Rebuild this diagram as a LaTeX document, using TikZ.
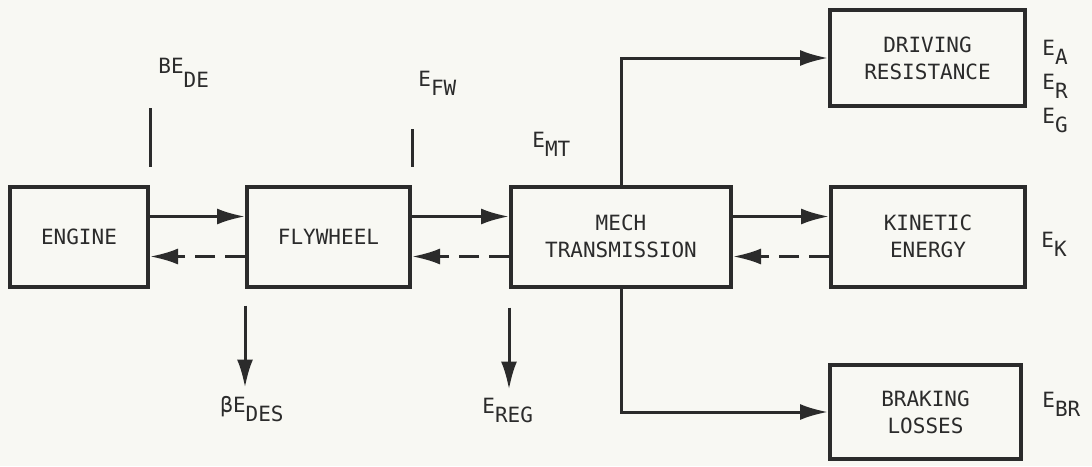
\documentclass[tikz,border=0pt]{standalone}
\usepackage{fontspec}
\setmainfont{DejaVu Sans Mono}
\usetikzlibrary{arrows.meta,calc}
\definecolor{ink}{HTML}{2B2B2B}
\definecolor{paper}{HTML}{F8F8F3}
\newcommand{\lsub}[2][4.5pt]{\raisebox{-#1}{#2}}
\tikzset{box/.style={draw=ink,line width=2pt,inner sep=0pt,align=center,text=ink,font=\fontsize{10.5}{13.5}\selectfont},
  lbl/.style={text=ink,font=\fontsize{10.5}{13.5}\selectfont,inner sep=0pt,anchor=base west},
  arr/.style={-{Latex[length=14pt,width=8pt]},line width=1.5pt,draw=ink},
  back/.style={arr,dash pattern=on 10pt off 5pt},
  tick/.style={line width=1.5pt,draw=ink}}

\begin{document}
\begin{tikzpicture}[x=0.5pt,y=-0.5pt]
\fill[paper] (0,0) rectangle (1092,466);
\useasboundingbox (0,0) rectangle (1092,466);
% blocks
\node[box,minimum width=69pt,minimum height=50pt] (engine) at (79,236.5) {ENGINE};
\node[box,minimum width=81.5pt,minimum height=50pt] (flywheel) at (328.5,236.5) {FLYWHEEL};
\node[box,minimum width=110pt,minimum height=50pt] (mech) at (621,236.5) {MECH\\TRANSMISSION};
\node[box,minimum width=97.5pt,minimum height=48pt] (driving) at (927.5,58) {DRIVING\\RESISTANCE};
\node[box,minimum width=97pt,minimum height=50pt] (kinetic) at (928,236.5) {KINETIC\\ENERGY};
\node[box,minimum width=95.5pt,minimum height=47pt] (braking) at (925.5,412) {BRAKING\\LOSSES};
% energy labels
\node[lbl] (bede) at (158,73) {BE\lsub[7pt]{DE}};
\node[lbl] (efw) at (418,86) {E\lsub{FW}};
\node[lbl] (emt) at (532,147) {E\lsub{MT}};
\node[lbl] (ea) at (1042,55) {E\lsub{A}};
\node[lbl] (er) at (1042,89) {E\lsub{R}};
\node[lbl] (eg) at (1042,123) {E\lsub{G}};
\node[lbl] (ek) at (1041,247) {E\lsub{K}};
\node[lbl] (ebr) at (1042,407) {E\lsub{BR}};
\node[lbl] (edes) at (220,412) {βE\lsub{DES}};
\node[lbl] (ereg) at (482,413) {E\lsub{REG}};
% flows
\foreach \a/\b in {engine/flywheel,flywheel/mech,mech/kinetic}{
  \draw[arr] ([yshift=10pt]\a.east) -- ([yshift=10pt]\b.west);
  \draw[back] ([yshift=-10pt]\b.west) -- ([yshift=-10pt]\a.east);}
\draw[arr] (mech.north) |- (driving.west);
\draw[arr] (mech.south) |- (braking.west);
\draw[tick] ([yshift=9pt]engine.north east) -- ++(0,-59);
\draw[tick] ([yshift=9pt]flywheel.north east) -- ++(0,-38);
\draw[arr] ([yshift=-8.5pt]flywheel.south west) -- ++(0,82);
\draw[arr] ([yshift=-9.5pt]mech.south west) -- ++(0,82);
\end{tikzpicture}
\end{document}
